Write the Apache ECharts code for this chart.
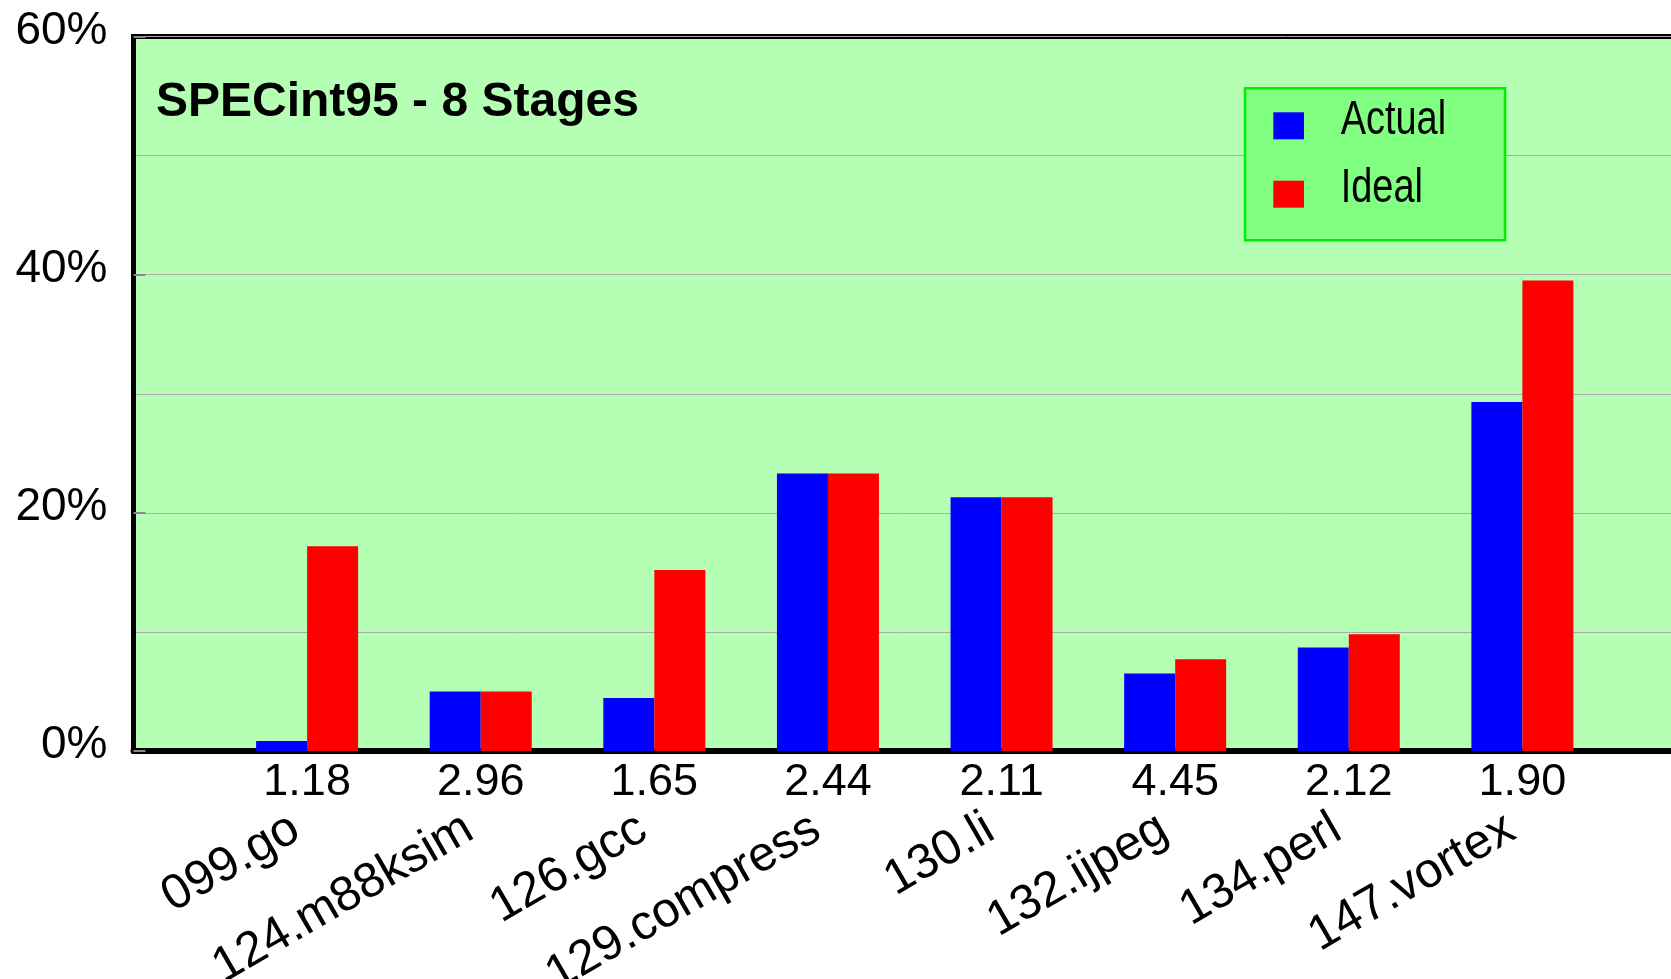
<!DOCTYPE html>
<html>
<head>
<meta charset="utf-8">
<title>SPECint95 - 8 Stages</title>
<script src="https://cdn.jsdelivr.net/npm/echarts@6/dist/echarts.min.js"></script>
<style>
  html, body { margin: 0; padding: 0; background: #ffffff; }
  #chart { width: 1671px; height: 979px; }
</style>
</head>
<body>
<div id="chart"></div>
<script>
// Benchmarks and their speedup figures printed under the axis
const benchmarks = ['099.go', '124.m88ksim', '126.gcc', '129.compress', '130.li', '132.ijpeg', '134.perl', '147.vortex'];
const speedups = ['1.18', '2.96', '1.65', '2.44', '2.11', '4.45', '2.12', '1.90'];

// Percentages per benchmark
const seriesNames = ['Actual', 'Ideal'];
const actualPct = [0.85, 5.0, 4.45, 23.3, 21.3, 6.5, 8.7, 29.3];
const idealPct = [17.2, 5.0, 15.2, 23.3, 21.3, 7.7, 9.8, 39.5];

// Y axis range and labelled step
const yMin = 0;
const yMax = 60;
const yStep = 20;

const SANS = "'Liberation Sans', Arial, Helvetica, sans-serif";
const COLORS = ['#0000ff', '#ff0000'];

const chart = echarts.init(document.getElementById('chart'), null, { renderer: 'canvas' });

const catAxisBase = {
  type: 'category',
  data: benchmarks,
  gridIndex: 0,
  position: 'bottom',
  boundaryGap: false,
  min: -1,
  max: benchmarks.length,
  axisTick: { show: false },
  splitLine: { show: false }
};

// Legend box: swatches plus horizontally condensed labels
const legendItems = seriesNames.map(function (name, i) {
  const rowTop = 112.3 + i * 68.4;
  return [
    {
      type: 'rect',
      z: 6,
      shape: { x: 1273.3, y: rowTop, width: 30.7, height: 27 },
      style: { fill: COLORS[i] }
    },
    {
      type: 'text',
      z: 6,
      x: 1340.7,
      y: rowTop + 8.5,
      scaleX: 0.79,
      style: {
        text: name,
        font: '48px ' + SANS,
        fill: '#000000',
        textAlign: 'left',
        verticalAlign: 'middle'
      }
    }
  ];
}).flat();

chart.setOption({
  animation: false,
  backgroundColor: '#ffffff',
  title: {
    text: 'SPECint95 - 8 Stages',
    left: 156,
    top: 79,
    padding: 0,
    textStyle: { fontFamily: SANS, fontSize: 48, fontWeight: 'bold', color: '#000000' }
  },
  grid: {
    left: 133.5,
    top: 36.5,
    right: -25,
    bottom: 228,
    outerBoundsMode: 'none',
    containLabel: false,
    show: true,
    backgroundColor: '#b4ffb4',
    borderColor: '#000000',
    borderWidth: 5
  },
  graphic: [{
    type: 'rect',
    z: 5,
    shape: { x: 1245, y: 88.3, width: 260, height: 152 },
    style: { fill: '#80ff80', stroke: '#00ee00', lineWidth: 2.5 }
  }].concat(legendItems),
  xAxis: [
    Object.assign({}, catAxisBase, {
      axisLine: { show: true, lineStyle: { color: '#000000', width: 6 } },
      axisLabel: {
        interval: 0,
        margin: 9,
        fontFamily: SANS,
        fontSize: 45,
        color: '#000000',
        formatter: function (v) {
          const i = benchmarks.indexOf(v);
          return i < 0 ? '' : speedups[i];
        }
      }
    }),
    Object.assign({}, catAxisBase, {
      axisLine: { show: false },
      axisLabel: {
        interval: 0,
        rotate: 30,
        margin: 68,
        padding: [0, 13, 0, 0],
        fontFamily: SANS,
        fontSize: 49,
        color: '#000000',
        formatter: function (v) {
          return benchmarks.indexOf(v) < 0 ? '' : v;
        }
      }
    })
  ],
  yAxis: {
    type: 'value',
    min: yMin,
    max: yMax,
    interval: yStep,
    axisLine: { show: true, lineStyle: { color: '#000000', width: 5 } },
    axisTick: { show: true, inside: true, length: 12, lineStyle: { color: '#888888', width: 2 } },
    minorTick: { show: false, splitNumber: 2 },
    splitLine: { show: true, lineStyle: { color: '#aaaaaa', width: 1 } },
    minorSplitLine: { show: true, lineStyle: { color: '#aaaaaa', width: 1 } },
    axisLabel: {
      margin: 26,
      color: '#000000',
      formatter: '{v|{value}%}',
      rich: {
        v: { fontFamily: SANS, fontSize: 46, color: '#000000', padding: [0, 0, 11, 0] }
      }
    }
  },
  series: [
    {
      name: seriesNames[0],
      type: 'bar',
      xAxisIndex: 0,
      data: actualPct,
      barWidth: 51,
      barGap: '0%',
      itemStyle: { color: COLORS[0] }
    },
    {
      name: seriesNames[1],
      type: 'bar',
      xAxisIndex: 0,
      data: idealPct,
      barWidth: 51,
      barGap: '0%',
      itemStyle: { color: COLORS[1] }
    }
  ]
});
</script>
</body>
</html>
